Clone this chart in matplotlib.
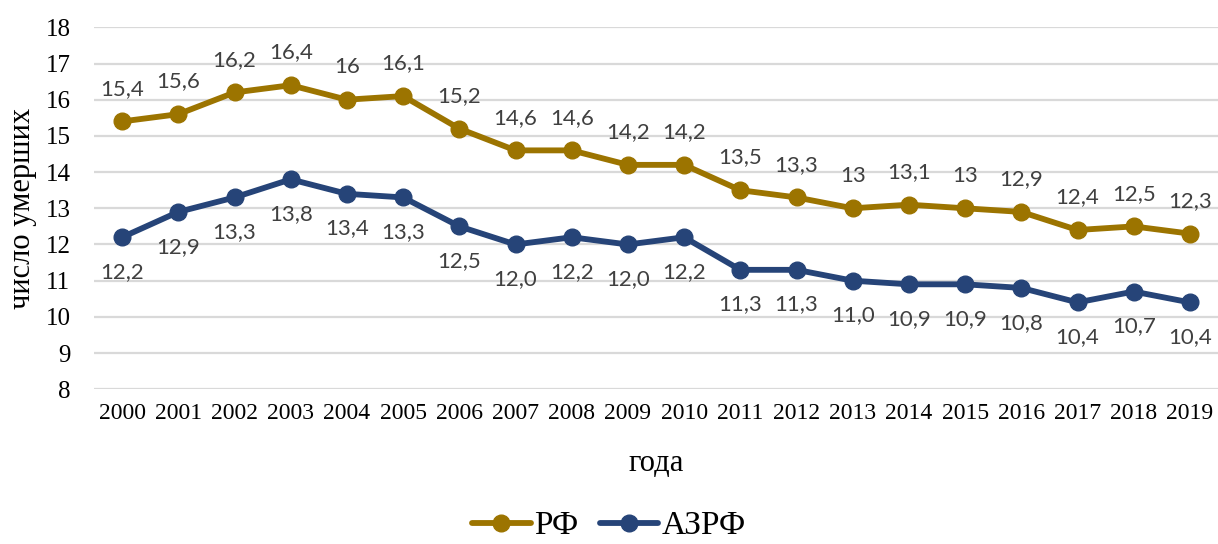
import matplotlib
matplotlib.use("Agg")
import matplotlib.pyplot as plt

years = [str(y) for y in range(2000, 2020)]
rf = [15.4, 15.6, 16.2, 16.4, 16.0, 16.1, 15.2, 14.6, 14.6, 14.2, 14.2,
      13.5, 13.3, 13.0, 13.1, 13.0, 12.9, 12.4, 12.5, 12.3]
rf_labels = ["15,4", "15,6", "16,2", "16,4", "16", "16,1", "15,2", "14,6", "14,6", "14,2",
             "14,2", "13,5", "13,3", "13", "13,1", "13", "12,9", "12,4", "12,5", "12,3"]
azrf = [12.2, 12.9, 13.3, 13.8, 13.4, 13.3, 12.5, 12.0, 12.2, 12.0, 12.2,
        11.3, 11.3, 11.0, 10.9, 10.9, 10.8, 10.4, 10.7, 10.4]
azrf_labels = ["12,2", "12,9", "13,3", "13,8", "13,4", "13,3", "12,5", "12,0", "12,2", "12,0",
               "12,2", "11,3", "11,3", "11,0", "10,9", "10,9", "10,8", "10,4", "10,7", "10,4"]
yticks = list(range(8, 19))

GOLD = "#9C7400"
NAVY = "#264478"
SERIF = "Liberation Serif"
LABEL_FONT = "Lato"
LABEL_COLOR = "#404040"

fig = plt.figure(figsize=(12.18, 5.44), dpi=100)
ax = fig.add_axes([0.0772, 0.2844, 0.9228, 0.6654])

x = list(range(len(years)))
ax.plot(x, rf, color=GOLD, lw=4.2, marker="o", ms=12, label="РФ", solid_capstyle="round")
ax.plot(x, azrf, color=NAVY, lw=4.2, marker="o", ms=12, label="АЗРФ", solid_capstyle="round")

for xi, v, t in zip(x, rf, rf_labels):
    ax.annotate(t, (xi, v), xytext=(0, 23.5), textcoords="offset points",
                ha="center", va="center", fontsize=16, family=LABEL_FONT, color=LABEL_COLOR)
for xi, v, t in zip(x, azrf, azrf_labels):
    ax.annotate(t, (xi, v), xytext=(0, -25), textcoords="offset points",
                ha="center", va="center", fontsize=16, family=LABEL_FONT, color=LABEL_COLOR)

ax.set_xlim(-0.5, len(years) - 0.5)
ax.set_ylim(8, 18)
ax.set_yticks(yticks)
ax.set_yticklabels([str(t) for t in yticks], fontsize=18, family=SERIF)
ax.set_xticks(x)
ax.set_xticklabels(years, fontsize=17, family=SERIF)
ax.tick_params(axis="both", length=0)
ax.tick_params(axis="y", pad=17)
ax.tick_params(axis="x", pad=10)
ax.grid(axis="y", color="#D9D9D9", lw=1.6)
ax.set_axisbelow(True)
for s in ax.spines.values():
    s.set_visible(False)

ax.set_xlabel("года", fontsize=22, family=SERIF, labelpad=18)
ax.set_ylabel("число умерших", fontsize=22, family=SERIF, labelpad=6)

fig.legend(loc="lower center", bbox_to_anchor=(0.5, -0.05), ncol=2, frameon=False,
           prop={"family": SERIF, "size": 24}, handlelength=1.75, columnspacing=0.65,
           handletextpad=0.1, handleheight=0.7)

fig.savefig("out.png", dpi=100)
